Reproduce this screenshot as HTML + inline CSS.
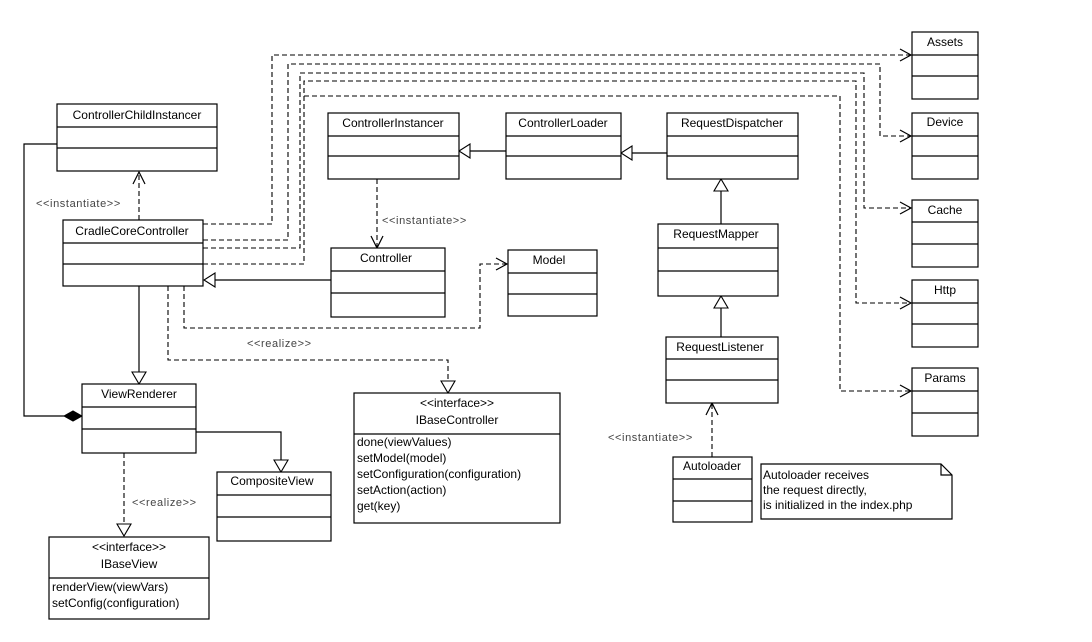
<!DOCTYPE html>
<html><head><meta charset="utf-8"><style>
html,body{margin:0;padding:0;background:#fff;}
svg{display:block;}
text{font-family:"Liberation Sans",sans-serif;font-size:12px;fill:#000;}
.s{font-size:11px;fill:#444;letter-spacing:0.6px;}
.b{fill:#fff;stroke:#000;stroke-width:1.2;}
.l{stroke:#000;stroke-width:1.2;fill:none;}
.d{stroke:#000;stroke-width:1.1;fill:none;stroke-dasharray:5,3;}
.t{fill:#fff;stroke:#000;stroke-width:1.1;}
</style></head><body>
<svg width="1092" height="642" viewBox="0 0 1092 642" xmlns="http://www.w3.org/2000/svg">
<rect width="1092" height="642" fill="#fff"/>

<!-- dashed dependency lines from CradleCoreController -->
<path class="d" d="M203 224 H272 V55 H910"/>
<path class="d" d="M203 240 H288 V64 H880 V136 H910"/>
<path class="d" d="M203 248 H300 V73 H864 V208 H910"/>
<path class="d" d="M203 264 H304 V81 H856 V303 H910"/>
<path class="d" d="M304 96 H840 V391 H910"/>
<g class="l">
<path d="M900 49 L911 55 L900 61"/>
<path d="M900 130 L911 136 L900 142"/>
<path d="M900 202 L911 208 L900 214"/>
<path d="M900 297 L911 303 L900 309"/>
<path d="M900 385 L911 391 L900 397"/>
</g>

<!-- instantiate CCC -> CCI -->
<path class="d" d="M139 220 V173"/>
<path class="l" d="M133 184 L139 172 L145 184"/>
<text x="36" y="207" class="s">&lt;&lt;instantiate&gt;&gt;</text>

<!-- composition CCI -> ViewRenderer -->
<path class="l" d="M57 144 H24 V416 H64"/>
<path d="M82 416 L73 411 L64 416 L73 421 Z" fill="#000" stroke="#000"/>

<!-- CCC -> ViewRenderer generalization -->
<path class="l" d="M139 286 V372"/>
<path class="t" d="M132 372 L146 372 L139 384 Z"/>

<!-- Controller -> CCC generalization -->
<path class="l" d="M331 280 H215"/>
<path class="t" d="M215 273 L215 287 L204 280 Z"/>

<!-- ControllerInstancer -> Controller instantiate -->
<path class="d" d="M377 179 V247"/>
<path class="l" d="M371 236 L377 248 L383 236"/>
<text x="382" y="224" class="s">&lt;&lt;instantiate&gt;&gt;</text>

<!-- CCC -> Model -->
<path class="d" d="M184 286 V328 H480 V264 H506"/>
<path class="l" d="M496 258 L507 264 L496 270"/>

<!-- CCC -> IBaseController realize -->
<path class="d" d="M168 286 V360 H448 V381"/>
<path class="t" d="M441 381 L455 381 L448 393 Z"/>
<text x="247" y="347" class="s">&lt;&lt;realize&gt;&gt;</text>

<!-- generalizations top row -->
<path class="l" d="M506 151 H470"/>
<path class="t" d="M470 144 L470 158 L459 151 Z"/>
<path class="l" d="M667 153 H632"/>
<path class="t" d="M632 146 L632 160 L621 153 Z"/>
<path class="l" d="M721 224 V191"/>
<path class="t" d="M714 191 L728 191 L721 179 Z"/>
<path class="l" d="M721 337 V308"/>
<path class="t" d="M714 308 L728 308 L721 296 Z"/>

<!-- Autoloader -> RequestListener -->
<path class="d" d="M712 457 V404"/>
<path class="l" d="M706 415 L712 403 L718 415"/>
<text x="608" y="441" class="s">&lt;&lt;instantiate&gt;&gt;</text>

<!-- ViewRenderer -> CompositeView -->
<path class="l" d="M196 432 H281 V460"/>
<path class="t" d="M274 460 L288 460 L281 472 Z"/>

<!-- ViewRenderer -> IBaseView realize -->
<path class="d" d="M124 453 V524"/>
<path class="t" d="M117 524 L131 524 L124 536 Z"/>
<text x="132" y="506" class="s">&lt;&lt;realize&gt;&gt;</text>

<!-- boxes -->
<g>
<rect class="b" x="57" y="104" width="160" height="67"/><path class="l" d="M57 127H217M57 148H217"/>
<text x="137" y="119" text-anchor="middle">ControllerChildInstancer</text>

<rect class="b" x="63" y="220" width="140" height="66"/><path class="l" d="M63 243H203M63 264H203"/>
<text x="132" y="235" text-anchor="middle">CradleCoreController</text>

<rect class="b" x="328" y="113" width="131" height="66"/><path class="l" d="M328 136H459M328 156H459"/>
<text x="393" y="127" text-anchor="middle">ControllerInstancer</text>

<rect class="b" x="506" y="113" width="115" height="66"/><path class="l" d="M506 136H621M506 156H621"/>
<text x="563" y="127" text-anchor="middle">ControllerLoader</text>

<rect class="b" x="667" y="113" width="131" height="66"/><path class="l" d="M667 136H798M667 156H798"/>
<text x="732" y="127" text-anchor="middle">RequestDispatcher</text>

<rect class="b" x="331" y="248" width="114" height="69"/><path class="l" d="M331 271H445M331 293H445"/>
<text x="386" y="262" text-anchor="middle">Controller</text>

<rect class="b" x="508" y="250" width="89" height="66"/><path class="l" d="M508 273H597M508 294H597"/>
<text x="549" y="264" text-anchor="middle">Model</text>

<rect class="b" x="658" y="224" width="120" height="72"/><path class="l" d="M658 248H778M658 271H778"/>
<text x="716" y="238" text-anchor="middle">RequestMapper</text>

<rect class="b" x="666" y="337" width="112" height="66"/><path class="l" d="M666 359H778M666 380H778"/>
<text x="720" y="351" text-anchor="middle">RequestListener</text>

<rect class="b" x="912" y="32" width="66" height="67"/><path class="l" d="M912 55H978M912 76H978"/>
<text x="945" y="46" text-anchor="middle">Assets</text>
<rect class="b" x="912" y="113" width="66" height="66"/><path class="l" d="M912 136H978M912 156H978"/>
<text x="945" y="126" text-anchor="middle">Device</text>
<rect class="b" x="912" y="200" width="66" height="67"/><path class="l" d="M912 222H978M912 244H978"/>
<text x="945" y="214" text-anchor="middle">Cache</text>
<rect class="b" x="912" y="280" width="66" height="67"/><path class="l" d="M912 303H978M912 324H978"/>
<text x="945" y="294" text-anchor="middle">Http</text>
<rect class="b" x="912" y="368" width="66" height="68"/><path class="l" d="M912 391H978M912 413H978"/>
<text x="945" y="382" text-anchor="middle">Params</text>

<rect class="b" x="82" y="384" width="114" height="69"/><path class="l" d="M82 407H196M82 429H196"/>
<text x="139" y="398" text-anchor="middle">ViewRenderer</text>

<rect class="b" x="354" y="393" width="206" height="130"/><path class="l" d="M354 434H560"/>
<text x="457" y="407" text-anchor="middle">&lt;&lt;interface&gt;&gt;</text>
<text x="457" y="424" text-anchor="middle">IBaseController</text>
<text x="357" y="446">done(viewValues)</text>
<text x="357" y="462">setModel(model)</text>
<text x="357" y="478">setConfiguration(configuration)</text>
<text x="357" y="494">setAction(action)</text>
<text x="357" y="510">get(key)</text>

<rect class="b" x="217" y="472" width="114" height="69"/><path class="l" d="M217 495H331M217 517H331"/>
<text x="272" y="485" text-anchor="middle">CompositeView</text>

<rect class="b" x="49" y="537" width="160" height="82"/><path class="l" d="M49 578H209"/>
<text x="129" y="551" text-anchor="middle">&lt;&lt;interface&gt;&gt;</text>
<text x="129" y="568" text-anchor="middle">IBaseView</text>
<text x="52" y="591">renderView(viewVars)</text>
<text x="52" y="607">setConfig(configuration)</text>

<rect class="b" x="673" y="457" width="79" height="65"/><path class="l" d="M673 479H752M673 501H752"/>
<text x="712" y="470" text-anchor="middle">Autoloader</text>

<path class="b" d="M761 464 H941 L952 475 V519 H761 Z"/>
<path class="l" d="M941 464 V475 H952"/>
<text x="763" y="479">Autoloader receives</text>
<text x="763" y="494"> the request directly,</text>
<text x="763" y="509">is initialized in the index.php</text>
</g>
</svg>
</body></html>
